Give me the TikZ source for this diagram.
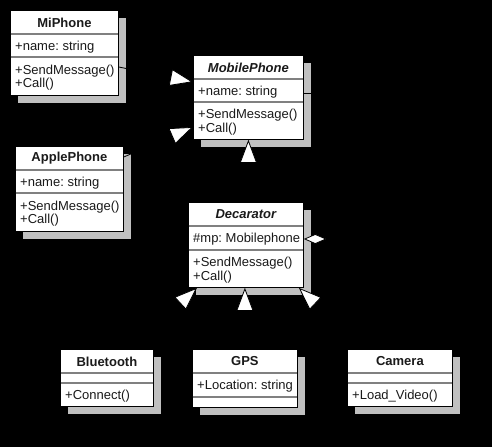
\documentclass[tikz,border=0pt]{standalone}
\usepackage{fontspec}
\setmainfont{Liberation Sans}
\usepackage{tikz}
\usetikzlibrary{calc,arrows.meta,shadows}
\definecolor{bg}{HTML}{000000}
\definecolor{boxfill}{HTML}{FFFFFF}
\definecolor{shade}{HTML}{C0C0C0}
\definecolor{rule}{HTML}{808080}
\definecolor{ink}{HTML}{1A1A1A}
\frenchspacing
\tikzset{
  cls/.style={draw=black, fill=boxfill, line width=0.8pt, inner sep=0pt,
    drop shadow={shadow xshift=8pt, shadow yshift=-8pt, fill=shade, opacity=1}},
  sep/.style={draw=rule, line width=1.2pt},
  ttl/.style={text=ink, font=\fontsize{13}{14}\selectfont\bfseries, inner sep=0pt},
  mem/.style={text=ink, font=\fontsize{13}{13.5}\selectfont, align=left, inner sep=0pt, anchor=west},
  inh/.style={draw=bg, line width=0.8pt, -{Triangle[length=23pt, width=17pt, fill=white]}},
  agg/.style={draw=bg, line width=0.8pt, {Diamond[length=23pt, width=10pt, fill=white]}-},
}
% class box: name, corner, width, attr height, ops height, title, attrs, ops
\newcommand{\umlclass}[8]{%
  \node[cls, anchor=north west, minimum width=#3pt, minimum height={(24+#4+#5)*1pt}] (#1) at (#2) {};
  \draw[sep] ($(#1.north west)+(0.5,24)$) -- ($(#1.north east)+(-0.5,24)$);
  \draw[sep] ($(#1.north west)+(0.5,24+#4)$) -- ($(#1.north east)+(-0.5,24+#4)$);
  \node[ttl] (#1-name) at ($(#1.north)+(0,12.5)$) {#6};
  \node[mem] (#1-attr) at ($(#1.north west)+(5,25.5+#4/2)$) {#7};
  \node[mem] (#1-ops) at ($(#1.north west)+(5,25.5+#4+#5/2)$) {#8};
}
\begin{document}
\begin{tikzpicture}[x=1pt, y=-1pt]
  \useasboundingbox[fill=bg] (0,0) rectangle (492,447);
  \umlclass{mi}{10,10}{108}{23}{38}{MiPhone}{+name: string}{+SendMessage()\\+Call()}
  \umlclass{mp}{193,55}{110}{23}{37}{\itshape MobilePhone}{+name: string}{+SendMessage()\\+Call()}
  \umlclass{ap}{15,146}{108}{23}{38}{ApplePhone}{+name: string}{+SendMessage()\\+Call()}
  \umlclass{dec}{188,202}{115}{24}{37}{\itshape Decarator}{\#mp: Mobilephone}{+SendMessage()\\+Call()}
  \umlclass{bt}{60,349}{93}{10}{23}{Bluetooth}{}{+Connect()}
  \umlclass{gps}{192,349}{105}{24}{10}{GPS}{+Location: string}{}
  \umlclass{cam}{347,349}{105}{10}{23}{Camera}{}{+Load\_Video()}
  % generalisations
  \draw[inh] ($(mi.north east)+(0,57)$) -- ($(mp.north west)+(0,27)$);
  \draw[inh] ($(ap.north east)+(0,11)$) -- ($(mp.north west)+(0,72)$);
  \draw[inh] (dec.north -| mp.south) -- (mp.south);
  \draw[inh] ($(bt.north)+(24,0)$) -- ($(dec.south west)+(9,0)$);
  \draw[inh] (gps.north) -- (gps.north |- dec.south);
  \draw[inh] ($(cam.north)+(-36,0)$) -- ($(dec.south east)+(-5,0)$);
  % aggregation
  \draw[agg] ($(dec.north east)+(0,37)$) -- ++(27,0) |- ($(mp.north east)+(0,38)$);
\end{tikzpicture}
\end{document}
